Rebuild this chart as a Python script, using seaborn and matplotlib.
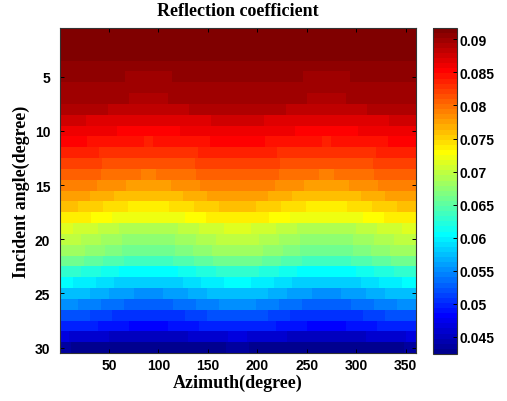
import numpy as np
import pandas as pd
import matplotlib
matplotlib.use("Agg")
import matplotlib.pyplot as plt
import seaborn as sns
from matplotlib.colors import ListedColormap

# ---------------- data ----------------
incident_angles = list(range(1, 31))          # rows (degree)
azimuths = list(range(1, 361))                # columns (degree)

# The map is symmetric about azimuth 90/270 and repeats every 180 degrees.
# For each incident angle: azimuths (within 0-90) where the colour band changes,
# and the reflection coefficient of each band, from azimuth 0 towards 90.
band_edges = [
    [], [], [], [], [66], [], [70], [49.4], [26.6], [58],
    [27.6, 85.5], [39.4], [42.5], [41.8, 82.3], [37.7, 67],
    [30, 55.3], [18.2, 43.5, 69.4], [31.7, 53.6], [13.1, 38.4, 60.3], [21.6, 41.8, 63.7],
    [25, 45.2, 63.7], [24.3, 43.5, 65.4], [21.6, 41.8, 60.3], [13.1, 36.7, 55.3], [30, 50.2, 75.5],
    [18.2, 41.8, 65.4], [30, 53.6], [38.4, 70.4], [9.8, 50.2], [11.5],
]
band_values = [
    [0.09141], [0.09141], [0.09141], [0.09063], [0.09063, 0.08986],
    [0.08986], [0.08986, 0.08909], [0.08909, 0.08832], [0.08755, 0.08678], [0.08600, 0.08523],
    [0.08523, 0.08446, 0.08369], [0.08369, 0.08292], [0.08215, 0.08137],
    [0.08060, 0.07983, 0.07906], [0.07906, 0.07829, 0.07752],
    [0.07752, 0.07674, 0.07597], [0.07597, 0.07520, 0.07443, 0.07366],
    [0.07366, 0.07289, 0.07211], [0.07134, 0.07057, 0.06980, 0.06903],
    [0.06980, 0.06903, 0.06826, 0.06748],
    [0.06826, 0.06748, 0.06671, 0.06594], [0.06594, 0.06517, 0.06440, 0.06363],
    [0.06285, 0.06208, 0.06131, 0.06054], [0.06054, 0.05977, 0.05900, 0.05822],
    [0.05745, 0.05668, 0.05591, 0.05514],
    [0.05514, 0.05436, 0.05359, 0.05282], [0.05205, 0.05128, 0.05051],
    [0.04973, 0.04896, 0.04819], [0.04665, 0.04588, 0.04510], [0.04356, 0.04279],
]

x_tick_values = [50, 100, 150, 200, 250, 300, 350]
y_tick_values = [5, 10, 15, 20, 25, 30]
cbar_tick_values = [0.045, 0.05, 0.055, 0.06, 0.065, 0.07, 0.075, 0.08, 0.085, 0.09]
cbar_tick_labels = ["0.045", "0.05", "0.055", "0.06", "0.065", "0.07", "0.075", "0.08", "0.085", "0.09"]
color_limits = (0.0424, 0.0918)

title_text = "Reflection coefficient"
x_label = "Azimuth(degree)"
y_label = "Incident angle(degree)"

# ---------------- build the grid ----------------
def quadrant(a):
    r = a % 180
    return min(r, 180 - r)

grid = []
for edges, vals in zip(band_edges, band_values):
    grid.append([vals[int(np.searchsorted(edges, quadrant(a)))] for a in azimuths])
df = pd.DataFrame(grid, index=incident_angles, columns=azimuths)


# MATLAB style jet(64)
def matlab_jet(m=64):
    n = int(np.ceil(m / 4))
    u = np.concatenate([np.arange(1, n + 1) / n, np.ones(n - 1), np.arange(n, 0, -1) / n])
    g = int(np.ceil(n / 2)) - (1 if m % 4 == 1 else 0) + np.arange(1, len(u) + 1)
    r = g + n
    b = g - n
    J = np.zeros((m, 3))
    for ch, idx in ((0, r), (1, g), (2, b)):
        mask = (idx >= 1) & (idx <= m)
        J[idx[mask] - 1, ch] = u[mask]
    return ListedColormap(J)


cmap = matlab_jet(64)

# ---------------- figure ----------------
W, H = 507, 402
fig = plt.figure(figsize=(W / 100, H / 100), dpi=100)
ax = fig.add_axes([60 / W, 1 - 354 / H, 356 / W, 325 / H])
cax = fig.add_axes([433 / W, 1 - 355 / H, 23.5 / W, 326.5 / H])

sns.heatmap(df, ax=ax, cbar_ax=cax, cmap=cmap, vmin=color_limits[0], vmax=color_limits[1],
            xticklabels=False, yticklabels=False, rasterized=True)

tick_font = dict(family=["Liberation Sans", "DejaVu Sans"], weight="bold", size=10)
label_font = dict(family=["Liberation Serif", "DejaVu Serif"], weight="bold", size=13)

ax.set_xticks([azimuths.index(a) + 0.5 for a in x_tick_values])
ax.set_xticklabels([str(a) for a in x_tick_values], rotation=0, **tick_font)
ax.set_yticks([incident_angles.index(a) + 0.5 for a in y_tick_values])
ax.set_yticklabels([str(a) for a in y_tick_values], rotation=0, **tick_font)
ax.tick_params(axis="both", direction="in", length=3, width=0.7, top=True, right=True,
               color="black")
ax.tick_params(axis="x", pad=3.5)
ax.tick_params(axis="y", pad=7)
for s in ax.spines.values():
    s.set_visible(True)
    s.set_linewidth(0.8)
    s.set_color("#333333")

ax.set_title(title_text, pad=9.5, **label_font)
ax.set_xlabel(x_label, **label_font)
ax.xaxis.set_label_coords(0.5, -0.064)
ax.set_ylabel(y_label, **label_font)
ax.yaxis.set_label_coords(-0.085, 0.5)

cbar = ax.collections[0].colorbar
cbar.set_ticks(cbar_tick_values)
cbar.set_ticklabels(cbar_tick_labels)
for t in cax.get_yticklabels():
    t.set_fontfamily(["Liberation Sans", "DejaVu Sans"])
    t.set_fontweight("bold")
    t.set_fontsize(10)
cax.tick_params(direction="in", length=3, width=0.7, pad=2, color="black")
cbar.outline.set_visible(True)
cbar.outline.set_linewidth(0.8)
cbar.outline.set_edgecolor("#333333")

fig.savefig("out.png", dpi=100)
